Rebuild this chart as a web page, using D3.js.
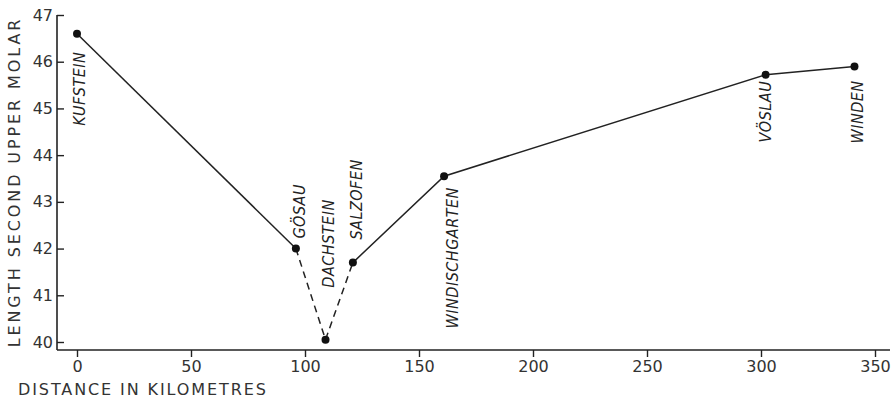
<!DOCTYPE html>
<html lang="en">
<head>
    <meta charset="UTF-8">
    <title>Second upper molar length</title>
    <script type="text/javascript" src="https://cdn.jsdelivr.net/npm/d3@7"></script>
    <style type="text/css">
        body { margin: 0; background: #fff; }
        .axis text { font-family: "DejaVu Sans", sans-serif; font-size: 16px; fill: #333; }
        .axis line { stroke: #222; stroke-width: 1.4px; }
        .title { font-family: "DejaVu Sans", sans-serif; font-size: 16px; fill: #333; }
        .place { font-family: "Liberation Sans Narrow", "DejaVu Sans Condensed", sans-serif;
                 font-style: italic; font-size: 16px; fill: #222; }
    </style>
</head>
<body>
<script type="text/javascript">
    // sites along the transect
    var sites = ["KUFSTEIN", "GÖSAU", "DACHSTEIN", "SALZOFEN", "WINDISCHGARTEN", "VÖSLAU", "WINDEN"];
    var distanceKm = [0, 96, 109, 121, 161, 302, 341];
    var molarLength = [46.6, 42.0, 40.05, 41.7, 43.55, 45.72, 45.9];
    var xTicks = [0, 50, 100, 150, 200, 250, 300, 350];
    var yTicks = [40, 41, 42, 43, 44, 45, 46, 47];

    var width = 894;
    var height = 399;

    var data = sites.map(function(s, i) {
        return { name: s, km: distanceKm[i], len: molarLength[i] };
    });

    var scaleX = d3.scaleLinear().domain([0, 350]).range([77, 875]);
    var scaleY = d3.scaleLinear().domain([40, 47]).range([342, 15]);
    var axisLeftX = 57;
    var axisBottomY = 350;

    var svg = d3.select('body')
        .append('svg')
        .attr('width', width)
        .attr('height', height);

    // axis frame lines
    svg.append('line')
        .attr('x1', axisLeftX).attr('x2', axisLeftX)
        .attr('y1', scaleY(47)).attr('y2', axisBottomY)
        .attr('stroke', '#222').attr('stroke-width', 1.6);
    svg.append('line')
        .attr('x1', axisLeftX).attr('x2', 890)
        .attr('y1', axisBottomY).attr('y2', axisBottomY)
        .attr('stroke', '#222').attr('stroke-width', 1.6);

    var axisX = d3.axisBottom(scaleX).tickValues(xTicks).tickSize(7).tickPadding(4);
    svg.append('g')
        .attr('class', 'axis')
        .attr('transform', `translate(0, ${axisBottomY})`)
        .call(axisX)
        .call(function(g) { g.select('.domain').remove(); });

    var axisY = d3.axisLeft(scaleY).tickValues(yTicks).tickFormat(d3.format('d'))
        .tickSize(-7).tickPadding(4);
    svg.append('g')
        .attr('class', 'axis')
        .attr('transform', `translate(${axisLeftX}, 0)`)
        .call(axisY)
        .call(function(g) { g.select('.domain').remove(); });

    // axis titles
    svg.append('text')
        .attr('class', 'title')
        .attr('transform', 'translate(20, 182) rotate(-90)')
        .attr('text-anchor', 'middle')
        .attr('letter-spacing', '2.9px')
        .text('LENGTH SECOND UPPER MOLAR');
    svg.append('text')
        .attr('class', 'title')
        .attr('x', 18)
        .attr('y', 395)
        .attr('letter-spacing', '1.9px')
        .text('DISTANCE IN KILOMETRES');

    // line segments: solid, dashed through Dachstein, solid
    var line = d3.line()
        .x(function(d) { return scaleX(d.km) })
        .y(function(d) { return scaleY(d.len) });
    var segments = [
        { pts: data.slice(0, 2), dash: null },
        { pts: data.slice(1, 4), dash: '7,5' },
        { pts: data.slice(3), dash: null }
    ];
    svg.selectAll('path.seg')
        .data(segments)
        .enter()
        .append('path')
        .attr('class', 'seg')
        .attr('d', function(d) { return line(d.pts) })
        .attr('fill', 'none')
        .attr('stroke', '#222')
        .attr('stroke-width', 1.5)
        .attr('stroke-dasharray', function(d) { return d.dash });

    svg.selectAll('circle')
        .data(data)
        .enter()
        .append('circle')
        .attr('cx', function(d) { return scaleX(d.km) })
        .attr('cy', function(d) { return scaleY(d.len) })
        .attr('r', 4)
        .attr('fill', '#111');

    // label placement: offset from point, anchor
    var labelPlace = [
        { dx: 8, dy: 18, anchor: 'end' },
        { dx: 9, dy: -10, anchor: 'start' },
        { dx: 8, dy: -52, anchor: 'start' },
        { dx: 9, dy: -23, anchor: 'start' },
        { dx: 14, dy: 11, anchor: 'end' },
        { dx: 5, dy: 6, anchor: 'end' },
        { dx: 9, dy: 14, anchor: 'end' }
    ];
    svg.selectAll('text.place')
        .data(data)
        .enter()
        .append('text')
        .attr('class', 'place')
        .attr('transform', function(d, i) {
            var p = labelPlace[i];
            return `translate(${scaleX(d.km) + p.dx}, ${scaleY(d.len) + p.dy}) rotate(-90)`;
        })
        .attr('text-anchor', function(d, i) { return labelPlace[i].anchor })
        .attr('letter-spacing', '0.5px')
        .text(function(d) { return d.name });
</script>
</body>
</html>
